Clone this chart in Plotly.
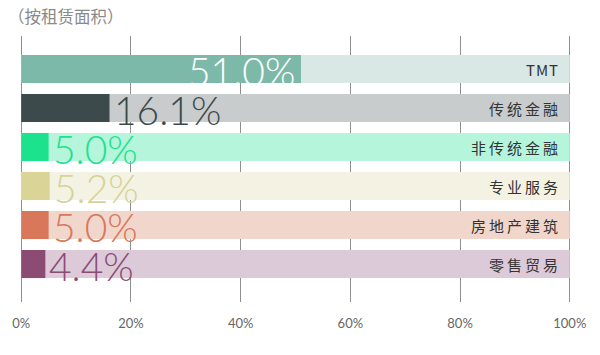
import plotly.graph_objects as go

categories = ["TMT", "传统金融", "非传统金融", "专业服务", "房地产建筑", "零售贸易"]
values = [51.0, 16.1, 5.0, 5.2, 5.0, 4.4]
value_labels = ["51.0%", "16.1%", "5.0%", "5.2%", "5.0%", "4.4%"]
full = [100, 100, 100, 100, 100, 100]
fg_colors = ["#7cb9a9", "#3d4a4b", "#1de28d", "#dad597", "#d9775a", "#8b4b72"]
bg_colors = ["#d9e8e4", "#c9cccc", "#b5f5dc", "#f4f2e2", "#f1d6cc", "#dccad8"]
label_colors = ["#ffffff", "#3d4a4b", "#1de28d", "#d6d29a", "#d9775a", "#8b4b72"]
tick_vals = [0, 20, 40, 60, 80, 100]
tick_text = ["0%", "20%", "40%", "60%", "80%", "100%"]
title_text = "（按租赁面积）"

ypos = list(range(len(categories)))

fig = go.Figure()
fig.add_trace(go.Bar(x=full, y=ypos, orientation="h", marker=dict(color=bg_colors, line=dict(width=0)),
                     width=0.72, hoverinfo="skip"))
fig.add_trace(go.Bar(x=values, y=ypos, orientation="h", marker=dict(color=fg_colors, line=dict(width=0)),
                     width=0.72, hoverinfo="skip"))

annotations = []
for i, (v, lab, col) in enumerate(zip(values, value_labels, label_colors)):
    inside = v > 30
    annotations.append(dict(
        x=v, y=ypos[i], xref="x", yref="y", text=lab, showarrow=False,
        xanchor="right" if inside else "left", xshift=-4 if inside else 2, yshift=-2,
        font=dict(family="Lato", size=39, color=col, weight=300),
    ))
for i, c in enumerate(categories):
    sep = "\u200a" if c.isascii() else "\u2009"
    annotations.append(dict(
        x=100, y=ypos[i], xref="x", yref="y", text=sep.join(c), showarrow=False,
        xanchor="right", xshift=-10, yshift=0,
        font=dict(family="Noto Sans CJK SC", size=15, color="#333333"),
    ))
annotations.append(dict(
    x=0, y=1, xref="paper", yref="paper", text=title_text, showarrow=False,
    xanchor="left", yanchor="bottom", xshift=-13, yshift=6,
    font=dict(family="Noto Sans CJK SC", size=16.5, color="#8a8a8a"),
))

fig.update_layout(
    width=600, height=355, margin=dict(l=19, r=28, t=36, b=53),
    paper_bgcolor="white", plot_bgcolor="white", barmode="overlay", showlegend=False,
    annotations=annotations,
    xaxis=dict(range=[-0.4, 100.4], tickvals=tick_vals, ticktext=tick_text, showgrid=True,
               gridcolor="#8f8f8f", gridwidth=1, zeroline=False, showline=False,
               ticks="", ticklabelstandoff=12,
               tickfont=dict(family="Lato", size=13, color="#666666")),
    yaxis=dict(range=[5.974, -0.846], showticklabels=False, showgrid=False, zeroline=False,
               showline=False, ticks=""),
)

fig.write_html("out.html")
